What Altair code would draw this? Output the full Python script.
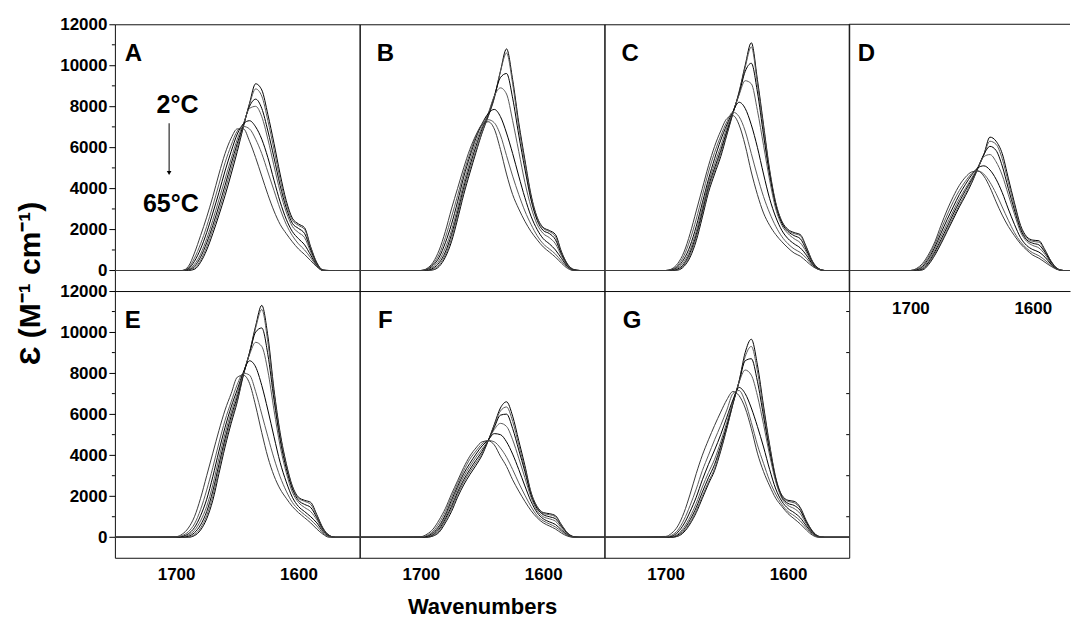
import altair as alt
import pandas as pd

FONT = "Liberation Sans"

# shared wavenumber grid (cm-1) for all spectra
WAVENUMBERS = [1700, 1695, 1690, 1685, 1680, 1675, 1670, 1665, 1660, 1655, 1650, 1645, 1640,
               1635, 1630, 1625, 1620, 1615, 1610, 1605, 1600, 1595, 1590, 1585, 1580, 1575, 1570]
BASELINE_ENDS = [1750, 1550]
CURVES = ["2C", "c2", "c3", "c4", "c5", "c6", "65C"]
CURVE_COLORS = ["#000000", "#5a5a5a", "#000000", "#5a5a5a", "#000000", "#5a5a5a", "#3a3a3a"]

PANEL_A = [
    [0, 0, 0, 60, 400, 1000, 1800, 2700, 3650, 4700, 5800, 7000, 8150, 9100, 8800, 7600, 6200, 4700, 3400, 2550, 2270, 2080, 1150, 380, 30, 0, 0],
    [0, 0, 20, 120, 500, 1150, 2000, 2900, 3900, 4950, 6000, 7050, 8100, 8850, 8500, 7300, 5900, 4450, 3250, 2450, 2200, 2000, 1100, 350, 20, 0, 0],
    [0, 0, 40, 200, 650, 1350, 2200, 3150, 4150, 5200, 6200, 7100, 8000, 8350, 7900, 6800, 5500, 4150, 3050, 2300, 2050, 1800, 1000, 320, 10, 0, 0],
    [0, 0, 60, 300, 800, 1550, 2450, 3450, 4450, 5450, 6400, 7150, 7900, 8000, 7500, 6400, 5100, 3850, 2850, 2150, 1850, 1600, 900, 290, 0, 0, 0],
    [0, 0, 90, 450, 1050, 1850, 2800, 3800, 4850, 5800, 6650, 7150, 7300, 7000, 6400, 5500, 4400, 3350, 2500, 1900, 1550, 1250, 750, 240, 0, 0, 0],
    [0, 0, 130, 600, 1300, 2150, 3150, 4200, 5250, 6100, 6800, 7020, 6900, 6400, 5700, 4800, 3900, 3000, 2250, 1700, 1300, 1000, 620, 210, 0, 0, 0],
    [0, 0, 200, 850, 1700, 2600, 3600, 4700, 5700, 6450, 6900, 6900, 6300, 5500, 4600, 3700, 2900, 2250, 1800, 1400, 1050, 780, 480, 180, 0, 0, 0],
]
PANEL_B = [
    [0, 0, 30, 200, 650, 1400, 2500, 3700, 4750, 5750, 6700, 7500, 8400, 9700, 10800, 9300, 7200, 5400, 3700, 2600, 2100, 1950, 1750, 900, 300, 50, 0],
    [0, 0, 60, 280, 760, 1550, 2650, 3850, 4900, 5850, 6750, 7550, 8450, 9700, 10600, 9100, 7000, 5250, 3600, 2550, 2050, 1900, 1650, 850, 280, 40, 0],
    [0, 20, 110, 380, 900, 1750, 2850, 4050, 5100, 6050, 6900, 7600, 8500, 9400, 9600, 8400, 6600, 4950, 3450, 2450, 1950, 1800, 1500, 780, 250, 30, 0],
    [0, 40, 170, 500, 1100, 1950, 3050, 4250, 5300, 6250, 7000, 7650, 8500, 8900, 8600, 7300, 5800, 4300, 3100, 2250, 1800, 1600, 1300, 700, 220, 20, 0],
    [0, 60, 250, 650, 1350, 2250, 3350, 4550, 5550, 6450, 7150, 7650, 7850, 7500, 6700, 5700, 4600, 3550, 2650, 2000, 1550, 1300, 1000, 580, 180, 10, 0],
    [0, 80, 320, 800, 1600, 2600, 3650, 4750, 5700, 6550, 7150, 7350, 7200, 6600, 5600, 4600, 3700, 2900, 2250, 1700, 1300, 1050, 800, 450, 150, 0, 0],
    [0, 100, 400, 1000, 1900, 3000, 4000, 5000, 5900, 6600, 7100, 7250, 6900, 5900, 4700, 3700, 3000, 2400, 1900, 1500, 1150, 900, 650, 350, 100, 0, 0],
]
PANEL_C = [
    [0, 0, 20, 200, 650, 1450, 2600, 3800, 4700, 5550, 6600, 7650, 8700, 10000, 11100, 9300, 7100, 4900, 3300, 2400, 2000, 1850, 1750, 1150, 450, 100, 0],
    [0, 0, 40, 260, 750, 1600, 2750, 3950, 4850, 5700, 6700, 7700, 8650, 9900, 10900, 9100, 6950, 4800, 3250, 2350, 1950, 1800, 1700, 1100, 420, 90, 0],
    [0, 10, 80, 330, 880, 1750, 2900, 4100, 5000, 5850, 6800, 7700, 8600, 9700, 10100, 8700, 6600, 4650, 3150, 2300, 1900, 1700, 1550, 1000, 380, 80, 0],
    [0, 20, 130, 430, 1000, 1900, 3050, 4250, 5200, 6050, 6950, 7700, 8550, 9250, 9100, 7800, 6100, 4400, 3000, 2200, 1800, 1550, 1350, 900, 340, 70, 0],
    [0, 40, 190, 560, 1200, 2150, 3300, 4450, 5450, 6350, 7100, 7750, 8200, 7900, 7100, 6000, 4700, 3500, 2600, 1950, 1550, 1300, 1100, 750, 300, 60, 0],
    [0, 60, 260, 720, 1500, 2500, 3650, 4800, 5750, 6550, 7250, 7720, 7500, 6800, 5700, 4600, 3600, 2800, 2150, 1650, 1300, 1050, 880, 600, 250, 50, 0],
    [0, 80, 350, 900, 1800, 2900, 4000, 5100, 6050, 6800, 7400, 7550, 7100, 6100, 4800, 3700, 2800, 2200, 1750, 1400, 1100, 850, 700, 450, 200, 50, 0],
]
PANEL_D = [
    [0, 0, 30, 300, 750, 1300, 1900, 2500, 3100, 3650, 4250, 4950, 5650, 6500, 6300, 5700, 4500, 3300, 2200, 1650, 1480, 1450, 1000, 450, 100, 0, 0],
    [0, 0, 50, 350, 820, 1380, 1980, 2600, 3200, 3750, 4320, 4980, 5650, 6300, 6150, 5450, 4300, 3150, 2100, 1580, 1420, 1380, 950, 420, 90, 0, 0],
    [0, 10, 90, 420, 920, 1500, 2120, 2750, 3350, 3900, 4420, 5000, 5650, 6050, 5850, 5100, 4000, 2950, 2000, 1500, 1330, 1250, 880, 400, 80, 0, 0],
    [0, 20, 140, 500, 1030, 1650, 2280, 2900, 3500, 4000, 4500, 5000, 5550, 5650, 5300, 4650, 3700, 2750, 1880, 1420, 1220, 1100, 780, 350, 70, 0, 0],
    [0, 40, 200, 600, 1150, 1820, 2480, 3100, 3700, 4200, 4650, 5000, 5100, 4900, 4450, 3800, 3000, 2250, 1600, 1220, 1020, 900, 650, 300, 60, 0, 0],
    [0, 70, 270, 700, 1280, 2000, 2700, 3350, 3900, 4350, 4720, 4850, 4700, 4300, 3750, 3100, 2450, 1850, 1400, 1080, 860, 720, 500, 250, 50, 0, 0],
    [0, 100, 350, 800, 1400, 2200, 2950, 3600, 4150, 4550, 4800, 4850, 4600, 4050, 3350, 2700, 2150, 1700, 1300, 1000, 750, 600, 400, 200, 50, 0, 0],
]
PANEL_E = [
    [0, 0, 0, 80, 350, 900, 1800, 3100, 4400, 5550, 6600, 7900, 9000, 10300, 11300, 9800, 7200, 5100, 3600, 2500, 1950, 1800, 1700, 1100, 450, 100, 0],
    [0, 0, 10, 130, 450, 1050, 2000, 3300, 4600, 5700, 6700, 7950, 9000, 10200, 11100, 9500, 7000, 4950, 3500, 2450, 1900, 1750, 1600, 1050, 420, 90, 0],
    [0, 10, 50, 220, 600, 1250, 2250, 3550, 4800, 5900, 6850, 7950, 8950, 10000, 10200, 8900, 6700, 4750, 3350, 2350, 1800, 1600, 1450, 950, 380, 80, 0],
    [0, 20, 100, 330, 800, 1500, 2550, 3850, 5050, 6100, 7000, 8000, 8900, 9500, 9300, 8100, 6200, 4450, 3150, 2200, 1700, 1450, 1250, 850, 340, 70, 0],
    [0, 40, 170, 470, 1050, 1850, 2950, 4200, 5350, 6350, 7200, 8050, 8600, 8300, 7400, 6200, 4900, 3650, 2700, 1950, 1500, 1250, 1000, 700, 280, 50, 0],
    [10, 80, 270, 650, 1350, 2300, 3400, 4600, 5700, 6600, 7450, 8000, 7900, 7100, 6000, 4900, 3850, 2950, 2250, 1700, 1350, 1100, 850, 550, 200, 30, 0],
    [30, 150, 450, 1000, 1900, 3000, 4100, 5200, 6200, 7000, 7800, 7900, 7500, 6400, 5100, 3900, 3000, 2350, 1900, 1500, 1200, 950, 700, 400, 150, 0, 0],
]
PANEL_F = [
    [0, 0, 60, 250, 700, 1250, 1950, 2550, 3050, 3500, 4000, 4700, 5500, 6300, 6600, 5900, 4700, 3500, 2200, 1500, 1200, 1150, 1050, 600, 200, 30, 0],
    [0, 10, 90, 320, 800, 1380, 2080, 2680, 3180, 3620, 4080, 4700, 5450, 6150, 6350, 5650, 4500, 3350, 2150, 1450, 1150, 1100, 1000, 580, 190, 25, 0],
    [0, 20, 130, 400, 900, 1500, 2200, 2800, 3300, 3750, 4180, 4720, 5350, 5950, 6000, 5300, 4250, 3200, 2050, 1400, 1100, 1000, 900, 520, 170, 20, 0],
    [0, 30, 180, 480, 1000, 1650, 2350, 2950, 3450, 3900, 4300, 4720, 5250, 5550, 5400, 4750, 3850, 2900, 1950, 1300, 1000, 900, 780, 450, 150, 15, 0],
    [0, 50, 230, 560, 1100, 1800, 2480, 3100, 3600, 4050, 4450, 4740, 5050, 5000, 4650, 4050, 3300, 2500, 1750, 1200, 900, 750, 620, 350, 110, 10, 0],
    [10, 90, 300, 700, 1250, 1950, 2620, 3250, 3800, 4200, 4550, 4720, 4650, 4350, 3900, 3300, 2650, 2050, 1500, 1050, 800, 650, 500, 280, 80, 5, 0],
    [30, 150, 400, 850, 1400, 2100, 2750, 3400, 3950, 4350, 4650, 4700, 4500, 3950, 3450, 2800, 2250, 1750, 1300, 950, 700, 550, 400, 200, 50, 0, 0],
]
PANEL_G = [
    [0, 0, 50, 250, 650, 1200, 1900, 2600, 3250, 4200, 5300, 6500, 7600, 9000, 9650, 8400, 6400, 4500, 2900, 2050, 1800, 1750, 1450, 800, 300, 50, 0],
    [0, 0, 70, 300, 720, 1300, 2000, 2700, 3350, 4300, 5350, 6500, 7600, 8800, 9300, 8100, 6200, 4400, 2850, 2000, 1750, 1680, 1400, 770, 280, 45, 0],
    [0, 10, 110, 380, 850, 1450, 2200, 2900, 3550, 4450, 5450, 6550, 7550, 8600, 8700, 7600, 5900, 4200, 2800, 1950, 1650, 1550, 1300, 720, 260, 40, 0],
    [0, 20, 160, 480, 1000, 1650, 2450, 3150, 3800, 4650, 5600, 6600, 7550, 8150, 7900, 6900, 5500, 4000, 2700, 1900, 1550, 1400, 1150, 650, 230, 30, 0],
    [0, 50, 250, 650, 1250, 1950, 2800, 3550, 4250, 5000, 5850, 6700, 7300, 7000, 6300, 5400, 4400, 3300, 2350, 1750, 1400, 1200, 950, 550, 190, 20, 0],
    [10, 100, 350, 850, 1550, 2350, 3250, 4000, 4750, 5450, 6200, 7000, 7150, 6600, 5600, 4500, 3600, 2750, 2100, 1600, 1250, 1050, 800, 450, 150, 10, 0],
    [40, 200, 550, 1200, 2100, 3100, 4000, 4750, 5450, 6100, 6700, 7100, 6900, 6300, 5300, 4100, 3200, 2500, 1900, 1500, 1150, 900, 650, 350, 100, 0, 0],
]

PANEL_LETTERS = ["A", "B", "C", "D", "E", "F", "G"]
LETTER_WN = [1742, 1736, 1736, 1743, 1742, 1735, 1735]
LETTER_EPS = 10550
Y_TICKS = [0, 2000, 4000, 6000, 8000, 10000, 12000]
Y_MINOR = [1000, 3000, 5000, 7000, 9000, 11000]
X_TICKS = [1700, 1600]
Y_DOMAIN = [-1000, 12000]
X_LEFT = 1750
PX_PER_WN = 1.225
PANEL_W = 245
PANEL_H = 267
D_W = 221
FRAME = "#111111"

ANNOT_TEXT = ["2°C", "65°C"]
ANNOT_WN = [1698.8, 1704.3]
ANNOT_EPS = [8075, 3230]
ARROW_WN = 1705.7
ARROW_EPS = [7175, 4750]

Y_TITLE = "Ɛ (M⁻¹ cm⁻¹)"
X_TITLE = "Wavenumbers"

ALL = dict(zip(PANEL_LETTERS, [PANEL_A, PANEL_B, PANEL_C, PANEL_D, PANEL_E, PANEL_F, PANEL_G]))


def spectra_frame(curves):
    rows = []
    for name, vals in zip(CURVES, curves):
        rows.append({"curve": name, "wn": BASELINE_ENDS[0], "eps": 0})
        for w, v in zip(WAVENUMBERS, vals):
            rows.append({"curve": name, "wn": w, "eps": v})
        rows.append({"curve": name, "wn": BASELINE_ENDS[1], "eps": 0})
    return pd.DataFrame(rows)


def panel(idx, width, left_axis=False, y_title=None, x_axis=False, x_title=None,
          right_ticks=False, annotate=False, open_right=False):
    letter = PANEL_LETTERS[idx]
    x_right = X_LEFT - width / PX_PER_WN
    xs = alt.Scale(domain=[X_LEFT, x_right], nice=False, zero=False)
    ys = alt.Scale(domain=Y_DOMAIN, nice=False, zero=False)

    if x_axis:
        xa_kwargs = dict(values=X_TICKS, ticks=False, domain=open_right, domainColor=FRAME,
                         grid=False, labelFont=FONT, labelFontSize=17, labelFontWeight="bold",
                         labelColor="black", labelPadding=9, labelFlush=False, format="d")
        if x_title:
            xa_kwargs.update(title=x_title, titleFont=FONT, titleFontSize=22,
                             titleFontWeight="bold", titleColor="black",
                             titleY=49, titleBaseline="middle")
        else:
            xa_kwargs.update(title=None)
        xaxis = alt.Axis(**xa_kwargs)
    else:
        xaxis = None

    if left_axis:
        ya_kwargs = dict(values=Y_TICKS, tickSize=6, tickColor="black", domain=False,
                         grid=False, labelFont=FONT, labelFontSize=17,
                         labelFontWeight="bold", labelColor="black", labelPadding=2,
                         format="d")
        if y_title:
            ya_kwargs.update(title=y_title, titleFont=FONT, titleFontSize=30,
                             titleFontWeight="bold", titleColor="black",
                             titleX=-84, titleY=-8, titleAngle=270,
                             titleAlign="center", titleBaseline="middle")
        else:
            ya_kwargs.update(title=None)
        yaxis = alt.Axis(**ya_kwargs)
    else:
        yaxis = None

    df = spectra_frame(ALL[letter])
    lines = alt.Chart(df).mark_line(interpolate="monotone", strokeWidth=1, clip=True).encode(
        x=alt.X("wn:Q", scale=xs, axis=xaxis),
        y=alt.Y("eps:Q", scale=ys, axis=yaxis),
        color=alt.Color("curve:N", scale=alt.Scale(domain=CURVES, range=CURVE_COLORS), legend=None),
    )
    layers = [lines]

    lab = pd.DataFrame({"wn": [LETTER_WN[idx]], "eps": [LETTER_EPS], "t": [letter]})
    layers.append(alt.Chart(lab).mark_text(align="left", baseline="middle", font=FONT,
                                           fontSize=24, fontWeight="bold", color="black")
                  .encode(x="wn:Q", y="eps:Q", text="t:N"))

    if left_axis:
        layers.append(alt.Chart(pd.DataFrame({"eps": Y_MINOR})).mark_rule(color="black", strokeWidth=1)
                      .encode(y="eps:Q", x=alt.value(-3), x2=alt.value(0)))
    if right_ticks:
        layers.append(alt.Chart(pd.DataFrame({"eps": Y_MINOR})).mark_rule(color="black", strokeWidth=1)
                      .encode(y="eps:Q", x=alt.value(width - 3), x2=alt.value(width)))
    if open_right:
        # frame drawn on top and left only (panel runs off the page on the right)
        layers.append(alt.Chart(pd.DataFrame({"eps": [Y_DOMAIN[1]]})).mark_rule(color=FRAME, strokeWidth=1)
                      .encode(y="eps:Q", x=alt.value(0), x2=alt.value(width)))
        layers.append(alt.Chart(pd.DataFrame({"wn": [X_LEFT]})).mark_rule(color=FRAME, strokeWidth=1)
                      .encode(x="wn:Q", y=alt.value(0), y2=alt.value(PANEL_H)))
    if annotate:
        ann = pd.DataFrame({"wn": ANNOT_WN, "eps": ANNOT_EPS, "t": ANNOT_TEXT})
        layers.append(alt.Chart(ann).mark_text(align="center", baseline="middle", font=FONT,
                                               fontSize=25, fontWeight="bold", color="black")
                      .encode(x="wn:Q", y="eps:Q", text="t:N"))
        arr = pd.DataFrame({"wn": [ARROW_WN], "eps": [ARROW_EPS[0]], "eps2": [ARROW_EPS[1]]})
        layers.append(alt.Chart(arr).mark_rule(color="black", strokeWidth=1)
                      .encode(x="wn:Q", y="eps:Q", y2="eps2:Q"))
        head = pd.DataFrame({"wn": [ARROW_WN], "eps": [ARROW_EPS[1]]})
        layers.append(alt.Chart(head).mark_point(shape="triangle-down", filled=True, size=22,
                                                 color="black", opacity=1)
                      .encode(x="wn:Q", y="eps:Q"))

    props = dict(width=width, height=PANEL_H)
    if open_right:
        props["view"] = alt.ViewBackground(stroke="transparent")
    return alt.layer(*layers).properties(**props)


pA = panel(0, PANEL_W, left_axis=True, annotate=True)
pB = panel(1, PANEL_W)
pC = panel(2, PANEL_W)
pD = panel(3, D_W, x_axis=True, open_right=True)
pE = panel(4, PANEL_W, left_axis=True, y_title=Y_TITLE, x_axis=True)
pF = panel(5, PANEL_W, x_axis=True, x_title=X_TITLE)
pG = panel(6, PANEL_W, x_axis=True, right_ticks=True)

chart = alt.concat(pA, pB, pC, pD, pE, pF, pG, columns=4, spacing=0, bounds="flush").properties(
    padding={"left": 7, "top": 6, "right": 0, "bottom": 0},
    background="white",
).configure_view(stroke=FRAME, strokeWidth=1)

chart.save("out.html", embed_options={"renderer": "svg", "actions": False})
